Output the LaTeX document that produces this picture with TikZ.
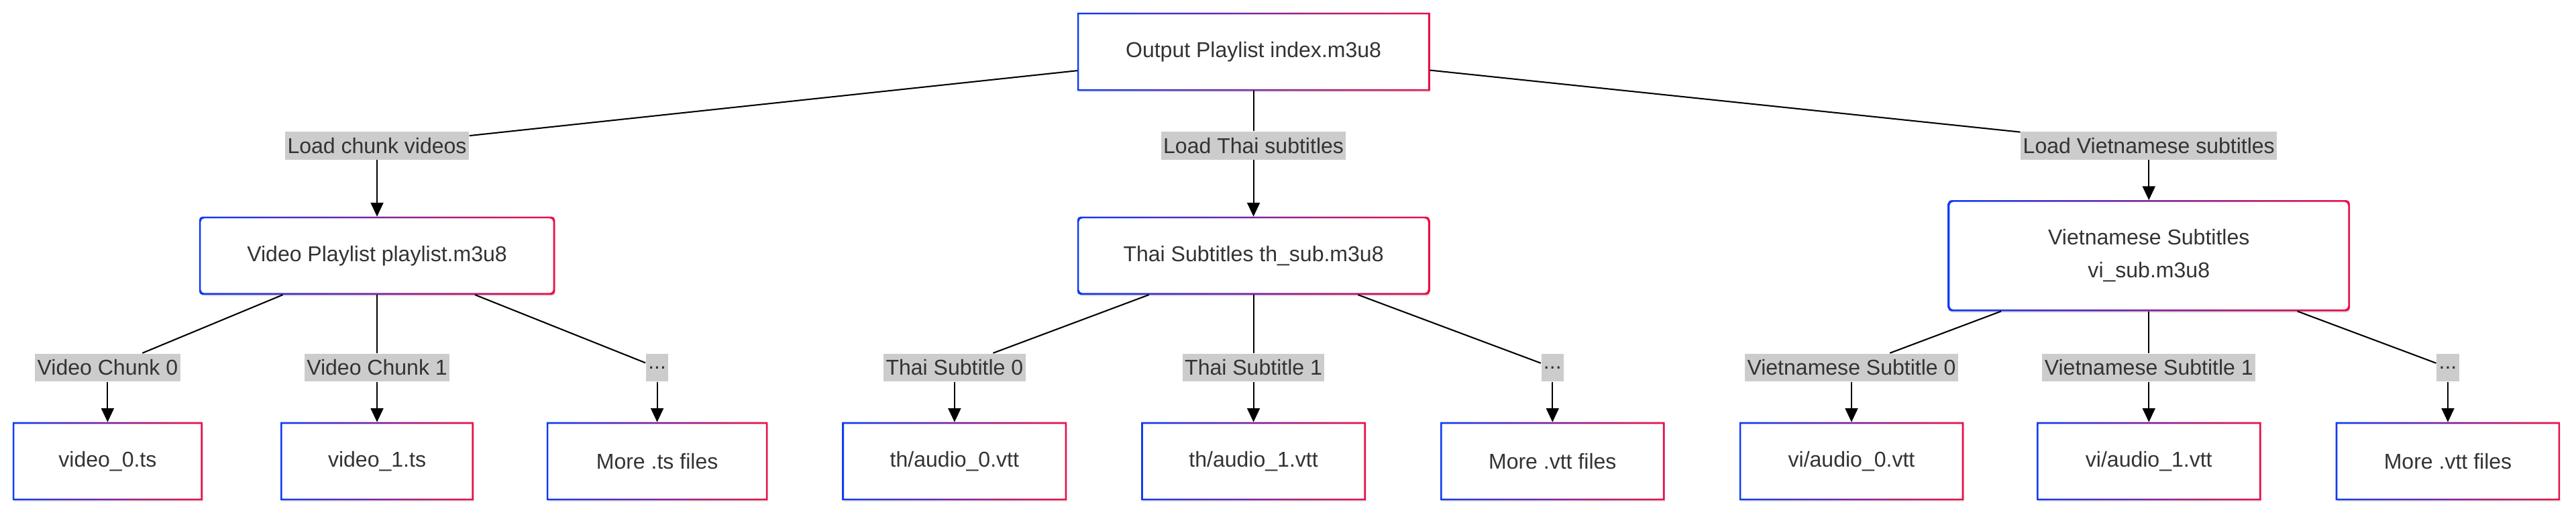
\documentclass[tikz,border=0pt]{standalone}
\usepackage{fontspec}
\setmainfont{Liberation Sans}
\usepackage{xcolor}
\usepackage{tikz}
\usetikzlibrary{arrows.meta,positioning,shadows}

\definecolor{frameblue}{RGB}{16,60,245}
\definecolor{framered}{RGB}{235,16,72}
\definecolor{txtgray}{RGB}{51,51,51}
\definecolor{lblgray}{RGB}{204,204,204}

% gradient frame around a finished node: #1 corner radius, #2 node name
\newcommand{\gradframe}[2][0pt]{%
  \shade[left color=frameblue, right color=framered, even odd rule,
         rounded corners=#1]
    (#2.south west) rectangle (#2.north east)
    ([shift={(0.75pt,0.75pt)}]#2.south west)
      rectangle ([shift={(-0.75pt,-0.75pt)}]#2.north east);}

\begin{document}
\begin{tikzpicture}[x=0.025cm, y=-0.025cm,
  font=\fontsize{9.3}{14.2}\selectfont,
  box/.style   ={rectangle, fill=white, text=txtgray, align=center,
                 inner sep=0pt, minimum height=1.175cm,
                 drop shadow={shadow xshift=0.4pt, shadow yshift=-0.8pt,
                              opacity=0.12, fill=black}},
  playlist/.style={box, rounded corners=1.5pt},
  leaf/.style  ={box, minimum width=3.4cm},
  lbl/.style   ={rectangle, fill=lblgray, text=txtgray, inner xsep=1pt,
                 inner ysep=0pt, minimum height=0.425cm},
  link/.style  ={black, line width=0.6pt},
  load/.style  ={-{Triangle[length=6pt,width=5.5pt]}, black,
                 line width=0.6pt},
]
\useasboundingbox (0,0) rectangle (1568,313);

% === Output playlist ===
\node[box, minimum width=5.35cm] (root) at (763,31.5)
  {Output Playlist index.m3u8};

% === Playlists ===
\node[playlist, minimum width=5.4cm] (vplist) at (229.5,155.5)
  {Video Playlist playlist.m3u8};
\node[playlist, minimum width=5.35cm] (thlist) at (763,155.5)
  {Thai Subtitles th\_sub.m3u8};
\node[playlist, minimum width=6.1cm, minimum height=1.675cm] (vilist)
  at (1308,155.5) {Vietnamese Subtitles\\vi\_sub.m3u8};

% === Files ===
\node[leaf, minimum width=2.875cm] (vts0) at (65.5,280.5) {video\_0.ts};
\node[leaf, minimum width=2.925cm] (vts1) at (229.5,280.5) {video\_1.ts};
\node[leaf, minimum width=3.35cm] (vtsmore) at (400,280.5) {More .ts files};
\node[leaf] (th0) at (581,280.5) {th/audio\_0.vtt};
\node[leaf] (th1) at (763,280.5) {th/audio\_1.vtt};
\node[leaf] (thmore) at (945,280.5) {More .vtt files};
\node[leaf] (vi0) at (1127,280.5) {vi/audio\_0.vtt};
\node[leaf] (vi1) at (1308,280.5) {vi/audio\_1.vtt};
\node[leaf] (vimore) at (1490,280.5) {More .vtt files};

% === Gradient frames ===
\gradframe{root}
\gradframe[1.5pt]{vplist}
\gradframe[1.5pt]{thlist}
\gradframe[1.5pt]{vilist}
\foreach \n in {vts0,vts1,vtsmore,th0,th1,thmore,vi0,vi1,vimore}
  {\gradframe{\n}}

% === Edge labels ===
\node[lbl] (lchunk) at (229.5,88.5) {Load chunk videos};
\node[lbl] (lthai) at (763,88.5) {Load Thai subtitles};
\node[lbl] (lviet) at (1308,88.5) {Load Vietnamese subtitles};

\node[lbl] (lvc0) at (65.5,223.5) {Video Chunk 0};
\node[lbl] (lvc1) at (229.5,223.5) {Video Chunk 1};
\node[lbl] (lvdots) at (400,223.5) {...};
\node[lbl] (lth0) at (581,223.5) {Thai Subtitle 0};
\node[lbl] (lth1) at (763,223.5) {Thai Subtitle 1};
\node[lbl] (lthdots) at (945,223.5) {...};
\node[lbl] (lvi0) at (1127,223.5) {Vietnamese Subtitle 0};
\node[lbl] (lvi1) at (1308,223.5) {Vietnamese Subtitle 1};
\node[lbl] (lvidots) at (1490,223.5) {...};

% === Output -> playlists ===
\draw[link] (root) -- (lchunk);
\draw[load] (lchunk) -- (vplist);
\draw[link] (root) -- (lthai);
\draw[load] (lthai) -- (thlist);
\draw[link] (root) -- (lviet);
\draw[load] (lviet) -- (vilist);

% === Playlists -> files ===
\draw[link] (vplist) -- (lvc0);
\draw[load] (lvc0) -- (vts0);
\draw[link] (vplist) -- (lvc1);
\draw[load] (lvc1) -- (vts1);
\draw[link] (vplist) -- (lvdots);
\draw[load] (lvdots) -- (vtsmore);

\draw[link] (thlist) -- (lth0);
\draw[load] (lth0) -- (th0);
\draw[link] (thlist) -- (lth1);
\draw[load] (lth1) -- (th1);
\draw[link] (thlist) -- (lthdots);
\draw[load] (lthdots) -- (thmore);

\draw[link] (vilist) -- (lvi0);
\draw[load] (lvi0) -- (vi0);
\draw[link] (vilist) -- (lvi1);
\draw[load] (lvi1) -- (vi1);
\draw[link] (vilist) -- (lvidots);
\draw[load] (lvidots) -- (vimore);

\end{tikzpicture}
\end{document}
